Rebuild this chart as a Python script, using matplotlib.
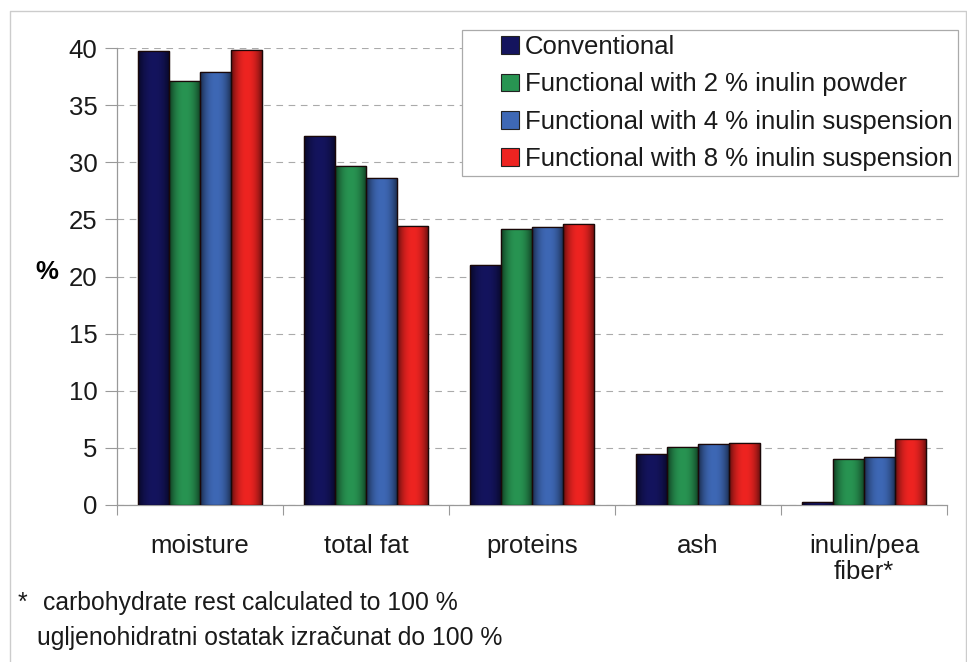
import matplotlib
matplotlib.use("Agg")
import matplotlib.pyplot as plt
import numpy as np
from matplotlib.patches import Rectangle
from matplotlib.lines import Line2D
from matplotlib.legend_handler import HandlerPatch
from matplotlib.colors import to_rgb

categories = ["moisture", "total fat", "proteins", "ash", "inulin/pea\nfiber*"]
series_names = [
    "Conventional",
    "Functional with 2 % inulin powder",
    "Functional with 4 % inulin suspension",
    "Functional with 8 % inulin suspension",
]
conventional = [39.7, 32.3, 21.0, 4.5, 0.3]
inulin_powder_2 = [37.15, 29.7, 24.2, 5.05, 4.05]
inulin_susp_4 = [37.9, 28.6, 24.3, 5.3, 4.2]
inulin_susp_8 = [39.85, 24.4, 24.6, 5.45, 5.75]
yticks = [0, 5, 10, 15, 20, 25, 30, 35, 40]

colors = ["#14145e", "#289452", "#3e68b5", "#ee2421"]

plt.rcParams["font.family"] = ["Liberation Sans", "DejaVu Sans"]
FS = 18.5

fig = plt.figure(figsize=(9.67, 6.62), dpi=100)
ax = fig.add_axes([117/967, 1-505/662, (947-117)/967, (505-48)/662])

data = [conventional, inulin_powder_2, inulin_susp_4, inulin_susp_8]
x = np.arange(len(categories))
w = 0.187
t = np.linspace(0, 1, 64)
shade = 1 - 0.6 * np.abs(2 * t - 1) ** 2.2
for i, (vals, c) in enumerate(zip(data, colors)):
    bars = ax.bar(x + (i - 1.5) * w, vals, width=w, color=c, edgecolor="#1a0808",
                  linewidth=0.9, label=series_names[i], zorder=3)
    rgb = np.array(to_rgb(c))
    grad = (shade[:, None] * rgb[None, :])[None, :, :]
    for b in bars:
        bx, by = b.get_x(), b.get_y()
        bw, bh = b.get_width(), b.get_height()
        im = ax.imshow(grad, extent=[bx, bx + bw, by, by + bh], aspect="auto",
                       zorder=3.5, interpolation="bilinear")
        im.set_clip_path(b)
        ax.add_patch(Rectangle((bx, by), bw, bh, fill=False, edgecolor="#1a0808",
                               linewidth=0.9, zorder=4))

ax.set_xlim(-0.5, len(categories) - 0.5)
ax.set_ylim(0, 40)
ax.set_yticks(yticks)
ax.set_yticklabels([str(v) for v in yticks], fontsize=FS, color="#1a1a1a")
ax.set_xticks(x)
ax.set_xticklabels(categories, fontsize=FS, color="#1a1a1a", linespacing=1.1)
ax.tick_params(axis="x", length=0, pad=21)
ax.tick_params(axis="y", length=9, width=0.8, color="#999999", pad=5)
ax.set_xticks(np.arange(-0.5, len(categories)), minor=True)
ax.tick_params(axis="x", which="minor", length=7, width=0.8, color="#999999", direction="out")

ax.grid(axis="y", color="#aaaaaa", linestyle=(0, (6, 5)), linewidth=0.8, zorder=0)
for s in ["top", "right"]:
    ax.spines[s].set_visible(False)
for s in ["left", "bottom"]:
    ax.spines[s].set_color("#999999")
    ax.spines[s].set_linewidth(0.9)

ax.set_ylabel("%", fontsize=FS, fontweight="bold", rotation=0, va="center")
ax.yaxis.set_label_coords(-0.085, 0.51)


def small_square(legend, orig_handle, xdescent, ydescent, width, height, fontsize):
    s = 0.68 * fontsize
    return Rectangle((width - s - xdescent, -ydescent + (height - s) / 2), s, s)


handles = [Rectangle((0, 0), 1, 1, facecolor=c, edgecolor="#222222", linewidth=0.8) for c in colors]
leg = ax.legend(handles, series_names, loc="upper right", bbox_to_anchor=(958/967, 1-30/662),
                bbox_transform=fig.transFigure, fontsize=FS, frameon=True, fancybox=False,
                edgecolor="#aaaaaa", framealpha=1, borderpad=0.2, labelspacing=0.52,
                handlelength=2.0, handleheight=0.7, handletextpad=0.25, borderaxespad=0,
                handler_map={Rectangle: HandlerPatch(patch_func=small_square)})
leg.get_frame().set_linewidth(0.9)
leg.set_zorder(6)
for txt in leg.get_texts():
    txt.set_color("#1a1a1a")

FN = 17.8
fig.text(18/967, 1-603/662, "*", fontsize=FN, va="center", ha="left", color="#1a1a1a")
fig.text(43/967, 1-603/662, "carbohydrate rest calculated to 100 %", fontsize=FN,
         va="center", ha="left", color="#1a1a1a")
fig.text(37/967, 1-638/662, "ugljenohidratni ostatak izračunat do 100 %", fontsize=FN,
         va="center", ha="left", color="#1a1a1a")

fig.add_artist(Line2D([10/967, 10/967, 966/967, 966/967], [0, 1-11/662, 1-11/662, 0],
                      transform=fig.transFigure, color="#cccccc", linewidth=1.0))

fig.savefig("out.png", dpi=100)
